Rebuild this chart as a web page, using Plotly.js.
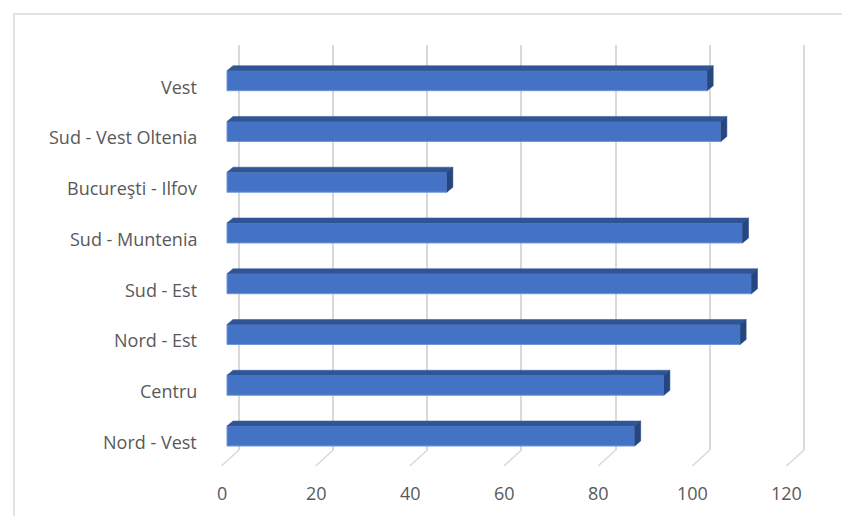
<!DOCTYPE html>
<html>
<head>
<meta charset="utf-8">
<script src="https://cdn.plot.ly/plotly-3.0.1.min.js"></script>
<style>
html,body{margin:0;padding:0;background:#fff;}
#chart{width:842px;height:516px;}
</style>
</head>
<body>
<div id="chart"></div>
<script>
// ---- data (bottom to top, as in the chart) ----
const categories = ['Nord - Vest', 'Centru', 'Nord - Est', 'Sud - Est', 'Sud - Muntenia', 'Bucureşti - Ilfov', 'Sud - Vest Oltenia', 'Vest'];
const values = [86.6, 92.8, 109.0, 111.4, 109.5, 46.7, 104.9, 102.0];
const xTicks = [0, 20, 40, 60, 80, 100, 120];
const xTickLabels = ['0', '20', '40', '60', '80', '100', '120'];

// ---- geometry (pixels) ----
const W = 842, H = 516;
const pxPerUnit = 4.708;     // value scale
const frontZeroPx = 227;     // x of value 0 on the bar front plane
const backZeroPx = 239;      // x of value 0 on the back wall
const catPx = 50.76;         // distance between categories
const firstCatPx = 436;      // y of the first (bottom) category centre
const wallTopPx = 45, wallBottomPx = 450, floorFrontPx = 466;
const tickFrontPx = 221.5;   // x of floor diagonal front end for value 0
const barPx = 20;            // front face height
const depthX = 6, depthY = 5; // bar depth offsets

const idx = categories.map((_, i) => i);
const x2Range = [(0 - frontZeroPx) / pxPerUnit, (W - frontZeroPx) / pxPerUnit];
const y2Range = [(firstCatPx - H) / catPx, firstCatPx / catPx];
const xGridRange = [(0 - backZeroPx) / pxPerUnit, (W - backZeroPx) / pxPerUnit];

const dxu = depthX / pxPerUnit, dyu = depthY / catPx, hw = barPx / catPx / 2;
const pxToC = py => (firstCatPx - py) / catPx;
const pxToV = px => (px - frontZeroPx) / pxPerUnit;

// top and side faces of the bars
const topX = [], topY = [], sideX = [], sideY = [];
idx.forEach(i => {
  const v = values[i];
  topX.push(0, dxu, v + dxu, v, 0, null);
  topY.push(i + hw, i + hw + dyu, i + hw + dyu, i + hw, i + hw, null);
  sideX.push(v, v + dxu, v + dxu, v, v, null);
  sideY.push(i + hw, i + hw + dyu, i - hw + dyu, i - hw, i + hw, null);
});

// floor diagonals
const backOff = (backZeroPx - frontZeroPx) / pxPerUnit;
const frontOff = (tickFrontPx - frontZeroPx) / pxPerUnit;
const diagX = [], diagY = [];
xTicks.forEach(t => {
  diagX.push(t + backOff, t + frontOff, null);
  diagY.push(pxToC(wallBottomPx), pxToC(floorFrontPx), null);
});

const labelFont = {family: '"Open Sans", Lato, sans-serif', size: 18, color: '#595959'};

const traces = [
  {type: 'scatter', x: [], y: [], xaxis: 'x', yaxis: 'y', hoverinfo: 'skip', showlegend: false},
  {type: 'bar', orientation: 'h', x: values, y: idx, xaxis: 'x2', yaxis: 'y2', width: barPx / catPx,
   marker: {color: '#4472C4', line: {color: '#6f95d8', width: 1}}, hoverinfo: 'skip', showlegend: false},
  {type: 'scatter', mode: 'lines', x: topX, y: topY, xaxis: 'x2', yaxis: 'y2', fill: 'toself',
   fillcolor: '#2F5597', line: {color: '#2F5597', width: 0.5}, hoverinfo: 'skip', showlegend: false},
  {type: 'scatter', mode: 'lines', x: sideX, y: sideY, xaxis: 'x2', yaxis: 'y2', fill: 'toself',
   fillcolor: '#25467f', line: {color: '#25467f', width: 0.5}, hoverinfo: 'skip', showlegend: false},
  {type: 'scatter', mode: 'lines', x: diagX, y: diagY, xaxis: 'x2', yaxis: 'y2',
   line: {color: '#d9d9d9', width: 1.5}, hoverinfo: 'skip', showlegend: false}
];

const annotations = [];
idx.forEach(i => {
  annotations.push({xref: 'x2', yref: 'y2', x: pxToV(199), y: i - 6 / catPx, text: categories[i],
    showarrow: false, xanchor: 'right', yanchor: 'middle', font: labelFont});
});
xTicks.forEach((t, k) => {
  annotations.push({xref: 'x2', yref: 'y2', x: t + (222 - frontZeroPx) / pxPerUnit, y: pxToC(492.5),
    text: xTickLabels[k], showarrow: false, xanchor: 'center', yanchor: 'middle', font: labelFont});
});

const layout = {
  width: W, height: H,
  margin: {l: 0, r: 0, t: 0, b: 0, pad: 0},
  paper_bgcolor: '#ffffff', plot_bgcolor: 'rgba(0,0,0,0)',
  showlegend: false,
  xaxis: {domain: [0, 1], range: xGridRange, tickvals: xTicks, showgrid: true, gridcolor: '#d9d9d9', gridwidth: 2,
          showticklabels: false, zeroline: false, showline: false, ticks: '', fixedrange: true},
  yaxis: {domain: [(H - wallBottomPx) / H, (H - wallTopPx) / H], range: [0, 1], showgrid: false,
          showticklabels: false, zeroline: false, showline: false, ticks: '', fixedrange: true},
  xaxis2: {domain: [0, 1], range: x2Range, anchor: 'y2', showgrid: false, showticklabels: false,
           zeroline: false, showline: false, ticks: '', fixedrange: true},
  yaxis2: {domain: [0, 1], range: y2Range, anchor: 'x2', showgrid: false, showticklabels: false,
           zeroline: false, showline: false, ticks: '', fixedrange: true},
  annotations: annotations,
  shapes: [{type: 'rect', xref: 'paper', yref: 'paper', x0: 14 / W, x1: 1.05, y0: -0.05, y1: (H - 14) / H,
            line: {color: '#d9d9d9', width: 1.5}, fillcolor: 'rgba(0,0,0,0)', layer: 'below'}]
};

Plotly.newPlot('chart', traces, layout, {staticPlot: true, displayModeBar: false});
</script>
</body>
</html>
